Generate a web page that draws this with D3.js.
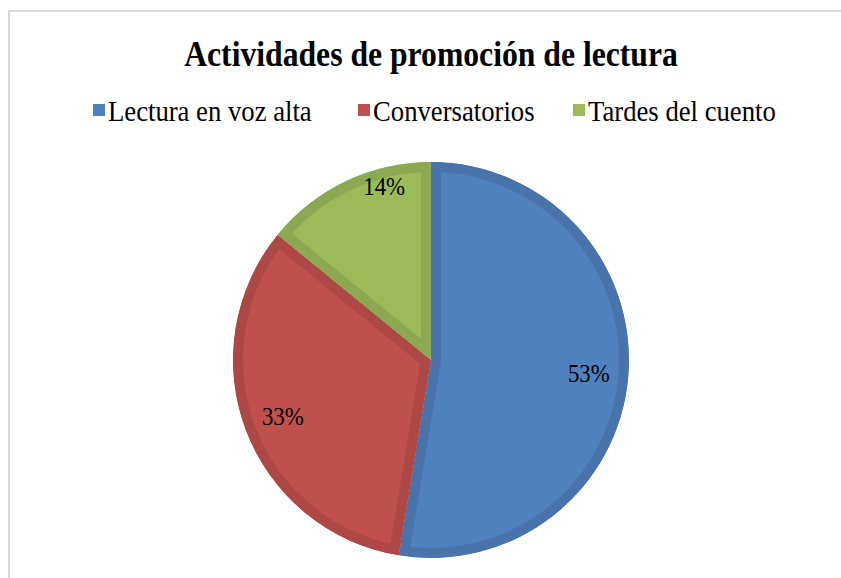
<!DOCTYPE html>
<html>
<head>
<meta charset="utf-8">
<script src="https://cdn.jsdelivr.net/npm/d3@7"></script>
<style>
  body { margin: 0; background: #fff; }
  text { font-family: "Liberation Serif", "Times New Roman", serif; fill: #000; }
</style>
</head>
<body>
<div id="chart"></div>
<script>
const categories = ['Lectura en voz alta', 'Conversatorios', 'Tardes del cuento']
const values = [52.6, 33.3, 14.1]
const fills = ['#4f81bd', '#c0504d', '#9bbb59']
const borders = ['#4873ab', '#ad4846', '#8ba950']

var width = 841,
    height = 578;

var svg = d3.select("#chart").append("svg")
    .attr("width", width)
    .attr("height", height);

// chart area frame (only top and left edges are visible)
svg.append("rect")
    .attr("x", 9).attr("y", 11)
    .attr("width", 900).attr("height", 700)
    .attr("fill", "none")
    .attr("stroke", "#d9d9d9")
    .attr("stroke-width", 2);

// the original text is a bit narrow, so squeeze it horizontally
svg.append("text")
    .attr("transform", "translate(431,66) scale(0.88,1)")
    .attr("text-anchor", "middle")
    .attr("font-size", 36)
    .attr("font-weight", "bold")
    .text("Actividades de promoción de lectura");

// legend
var legendX = [93, 358, 573];
var legend = svg.selectAll("g.legend")
    .data(categories)
    .enter().append("g")
    .attr("class", "legend")
    .attr("transform", (d, i) => "translate(" + legendX[i] + ",121)");

legend.append("rect")
    .attr("x", 0).attr("y", -17)
    .attr("width", 12).attr("height", 12)
    .attr("fill", (d, i) => fills[i]);

legend.append("text")
    .attr("transform", "translate(15,0) scale(0.89,1)")
    .attr("font-size", 30)
    .text(d => d);

// pie
var cx = 431, cy = 360, r = 198;
var total = d3.sum(values);

var pie = d3.pie().sort(null).value(d => d);
var arc = d3.arc().innerRadius(0).outerRadius(r);

var g = svg.append("g").attr("transform", "translate(" + cx + "," + cy + ")");
var arcs = pie(values);

var defs = svg.append("defs");
defs.selectAll("clipPath")
    .data(arcs)
    .enter().append("clipPath")
    .attr("id", (d, i) => "slice" + i)
    .append("path")
    .attr("d", arc);

g.selectAll("path.slice")
    .data(arcs)
    .enter().append("path")
    .attr("class", "slice")
    .attr("d", arc)
    .attr("fill", (d, i) => fills[i])
    .attr("stroke", (d, i) => borders[i])
    .attr("stroke-width", 20)
    .attr("stroke-linejoin", "miter")
    .attr("clip-path", (d, i) => "url(#slice" + i + ")");

// label placement like Excel's best fit: radius factor and angle shift per slice
var labelRadius = [0.8, 0.8, 0.91];
var labelShift = [0, 0, 0.18];

g.selectAll("text.label")
    .data(arcs)
    .enter().append("text")
    .attr("class", "label")
    .attr("transform", (d, i) => {
        var a = (d.startAngle + d.endAngle) / 2 + labelShift[i];
        var rr = r * labelRadius[i];
        return "translate(" + (rr * Math.sin(a)) + "," + (-rr * Math.cos(a)) + ") scale(0.88,1)";
    })
    .attr("text-anchor", "middle")
    .attr("dy", "0.35em")
    .attr("font-size", 26)
    .text(d => Math.round(d.data / total * 100) + "%");
</script>
</body>
</html>
